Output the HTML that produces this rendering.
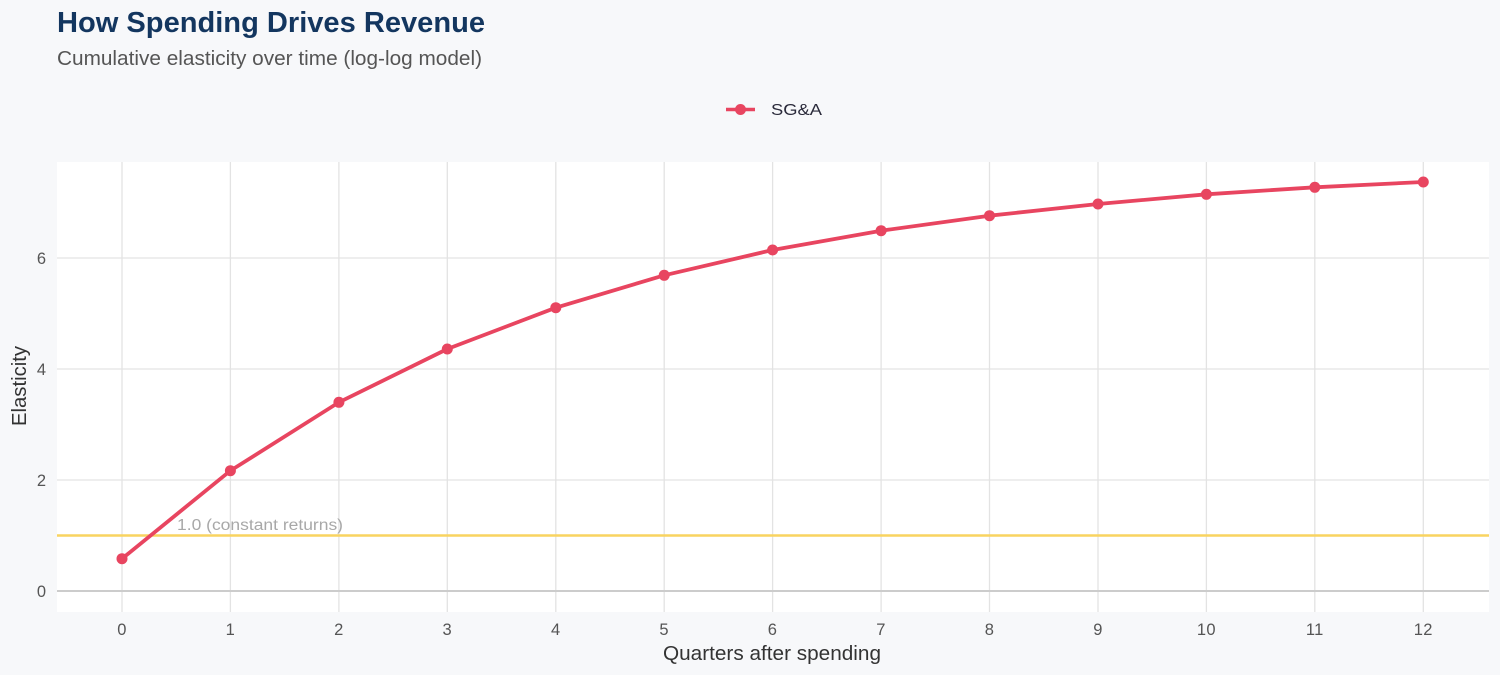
<!DOCTYPE html>
<html>
<head>
<meta charset="utf-8">
<style>
  html, body { margin: 0; padding: 0; background: #f7f8fa; }
  svg { display: block; font-family: "Liberation Sans", Arial, sans-serif; }
</style>
</head>
<body>
<svg width="1500" height="675" viewBox="0 0 1500 675" xmlns="http://www.w3.org/2000/svg">
  <rect x="0" y="0" width="1500" height="675" fill="#f7f8fa"/>
  <!-- Title -->
  <text x="57" y="32" font-size="28.5" font-weight="bold" fill="#13365f" textLength="428" lengthAdjust="spacingAndGlyphs">How Spending Drives Revenue</text>
  <text x="57" y="65" font-size="20" fill="#555" textLength="425" lengthAdjust="spacingAndGlyphs">Cumulative elasticity over time (log-log model)</text>

  <!-- Legend -->
  <line x1="726" y1="109.5" x2="755" y2="109.5" stroke="#e84560" stroke-width="3.5"/>
  <circle cx="740.5" cy="109.5" r="5.5" fill="#e84560"/>
  <text x="771" y="115" font-size="16" fill="#2a2a3a" textLength="51" lengthAdjust="spacingAndGlyphs">SG&amp;A</text>

  <!-- Panel -->
  <rect x="57" y="162" width="1432" height="450" fill="#ffffff"/>

  <!-- Grid -->
  <g stroke="#e3e3e3" stroke-width="1.3">
    <line x1="57" y1="480" x2="1489" y2="480"/>
    <line x1="57" y1="369" x2="1489" y2="369"/>
    <line x1="57" y1="258" x2="1489" y2="258"/>
    <line x1="122" y1="162" x2="122" y2="612"/>
    <line x1="230.4" y1="162" x2="230.4" y2="612"/>
    <line x1="338.9" y1="162" x2="338.9" y2="612"/>
    <line x1="447.3" y1="162" x2="447.3" y2="612"/>
    <line x1="555.8" y1="162" x2="555.8" y2="612"/>
    <line x1="664.2" y1="162" x2="664.2" y2="612"/>
    <line x1="772.6" y1="162" x2="772.6" y2="612"/>
    <line x1="881.1" y1="162" x2="881.1" y2="612"/>
    <line x1="989.5" y1="162" x2="989.5" y2="612"/>
    <line x1="1098" y1="162" x2="1098" y2="612"/>
    <line x1="1206.4" y1="162" x2="1206.4" y2="612"/>
    <line x1="1314.8" y1="162" x2="1314.8" y2="612"/>
    <line x1="1423.3" y1="162" x2="1423.3" y2="612"/>
  </g>
  <!-- zero line -->
  <line x1="57" y1="591" x2="1489" y2="591" stroke="#cccccc" stroke-width="2"/>
  <!-- reference line -->
  <line x1="57" y1="535.5" x2="1489" y2="535.5" stroke="#f9d460" stroke-width="2.5"/>
  <text x="177" y="530" font-size="15.5" fill="#a8a8a8" textLength="166" lengthAdjust="spacingAndGlyphs">1.0 (constant returns)</text>

  <!-- Series -->
  <polyline fill="none" stroke="#e84560" stroke-width="3.8" stroke-linejoin="round" stroke-linecap="round"
    points="122,558.7 230.4,470.7 338.9,402.3 447.3,349 555.8,307.7 664.2,275.3 772.6,250 881.1,230.7 989.5,215.7 1098,204 1206.4,194.3 1314.8,187.3 1423.3,182"/>
  <g fill="#e84560">
    <circle cx="122" cy="558.7" r="5.5"/>
    <circle cx="230.4" cy="470.7" r="5.5"/>
    <circle cx="338.9" cy="402.3" r="5.5"/>
    <circle cx="447.3" cy="349" r="5.5"/>
    <circle cx="555.8" cy="307.7" r="5.5"/>
    <circle cx="664.2" cy="275.3" r="5.5"/>
    <circle cx="772.6" cy="250" r="5.5"/>
    <circle cx="881.1" cy="230.7" r="5.5"/>
    <circle cx="989.5" cy="215.7" r="5.5"/>
    <circle cx="1098" cy="204" r="5.5"/>
    <circle cx="1206.4" cy="194.3" r="5.5"/>
    <circle cx="1314.8" cy="187.3" r="5.5"/>
    <circle cx="1423.3" cy="182" r="5.5"/>
  </g>

  <!-- Y tick labels -->
  <g font-size="16.5" fill="#555" text-anchor="end">
    <text x="46" y="597">0</text>
    <text x="46" y="486">2</text>
    <text x="46" y="375">4</text>
    <text x="46" y="264">6</text>
  </g>
  <!-- X tick labels -->
  <g font-size="16.5" fill="#555" text-anchor="middle" letter-spacing="0.4">
    <text x="122" y="635">0</text>
    <text x="230.4" y="635">1</text>
    <text x="338.9" y="635">2</text>
    <text x="447.3" y="635">3</text>
    <text x="555.8" y="635">4</text>
    <text x="664.2" y="635">5</text>
    <text x="772.6" y="635">6</text>
    <text x="881.1" y="635">7</text>
    <text x="989.5" y="635">8</text>
    <text x="1098" y="635">9</text>
    <text x="1206.4" y="635">10</text>
    <text x="1314.8" y="635">11</text>
    <text x="1423.3" y="635">12</text>
  </g>

  <!-- Axis titles -->
  <text x="663" y="660" font-size="20" fill="#333" textLength="218" lengthAdjust="spacingAndGlyphs">Quarters after spending</text>
  <text transform="translate(26,426) rotate(-90)" x="0" y="0" font-size="20" fill="#333" textLength="80" lengthAdjust="spacingAndGlyphs">Elasticity</text>
</svg>
</body>
</html>
